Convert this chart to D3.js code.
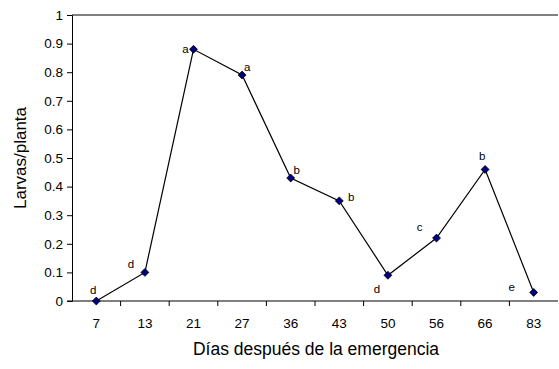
<!DOCTYPE html>
<html>
<head>
<meta charset="utf-8">
<script src="https://cdn.jsdelivr.net/npm/d3@7"></script>
<style>
  body { margin: 0; background: #fff; }
  svg text { font-family: "Liberation Sans", Arial, sans-serif; fill: #000; }
</style>
</head>
<body>
<div id="chart"></div>
<script>
// data
var days = ["7", "13", "21", "27", "36", "43", "50", "56", "66", "83"];
var larvas = [0, 0.1, 0.88, 0.79, 0.43, 0.35, 0.09, 0.22, 0.46, 0.03];
var letters = ["d", "d", "a", "a", "b", "b", "d", "c", "b", "e"];
var yTicks = [0, 0.1, 0.2, 0.3, 0.4, 0.5, 0.6, 0.7, 0.8, 0.9, 1];

var margin = { top: 15, right: 1, bottom: 68, left: 72 },
    width = 559 - margin.left - margin.right,
    height = 369 - margin.top - margin.bottom;

var svg = d3.select("#chart")
    .append("svg")
    .attr("width", 559)
    .attr("height", 369)
    .append("g")
    .attr("transform", "translate(" + margin.left + "," + margin.top + ")");

var x = d3.scaleBand()
    .domain(days)
    .range([0, width]);

var y = d3.scaleLinear()
    .domain([0, 1])
    .range([height, 0]);

// grey top border of plot area
svg.append("line")
    .attr("x1", 0).attr("x2", width)
    .attr("y1", 0).attr("y2", 0)
    .attr("stroke", "#808080")
    .attr("stroke-width", 2);

// Y axis
var yAxis = svg.append("g")
    .call(d3.axisLeft(y).tickValues(yTicks).tickSize(5).tickPadding(4)
        .tickFormat(function(d) { return d3.format("")(+d.toFixed(1)); }));
yAxis.select(".domain").attr("stroke", "#000");
yAxis.selectAll("text").style("font-size", "13.5px");

// X axis, ticks between categories
var xAxis = svg.append("g")
    .attr("transform", "translate(0," + height + ")")
    .call(d3.axisBottom(x).tickSize(0).tickPadding(17));
xAxis.select(".domain").remove();
xAxis.selectAll("text").style("font-size", "13.5px");

svg.append("line")
    .attr("x1", -5).attr("x2", width)
    .attr("y1", height).attr("y2", height)
    .attr("stroke", "#000");

svg.append("g")
    .selectAll("line")
    .data(days.slice(1))
    .enter()
    .append("line")
    .attr("x1", function(d) { return x(d); })
    .attr("x2", function(d) { return x(d); })
    .attr("y1", height)
    .attr("y2", height + 5)
    .attr("stroke", "#000");

// line
var line = d3.line()
    .x(function(d, i) { return x(days[i]) + x.bandwidth() / 2; })
    .y(function(d) { return y(d); });

svg.append("path")
    .datum(larvas)
    .attr("d", line)
    .attr("fill", "none")
    .attr("stroke", "#000")
    .attr("stroke-width", 1.2);

// diamond markers
svg.append("g")
    .selectAll("path")
    .data(larvas)
    .enter()
    .append("path")
    .attr("d", d3.symbol().type(d3.symbolDiamond2).size(40))
    .attr("transform", function(d, i) {
        return "translate(" + (x(days[i]) + x.bandwidth() / 2) + "," + y(d) + ")";
    })
    .attr("fill", "#000080")
    .attr("stroke", "#000")
    .attr("stroke-width", 0.8);

// significance letters, placed by hand around each point
var labelOff = [[-3, -11], [-14, -8], [-8, 0], [5, -8], [6, -8], [12, -4], [-11, 14], [-17, -11], [-3, -13], [-22, -5]];
svg.append("g")
    .selectAll("text")
    .data(letters)
    .enter()
    .append("text")
    .attr("x", function(d, i) { return x(days[i]) + x.bandwidth() / 2 + labelOff[i][0]; })
    .attr("y", function(d, i) { return y(larvas[i]) + labelOff[i][1]; })
    .attr("text-anchor", "middle")
    .attr("dy", "0.35em")
    .style("font-size", "11.5px")
    .text(function(d) { return d; });

// axis titles
svg.append("text")
    .attr("x", width / 2 + 1)
    .attr("y", height + 54)
    .attr("text-anchor", "middle")
    .style("font-size", "17.5px")
    .text("Días después de la emergencia");

svg.append("text")
    .attr("transform", "translate(" + (-46) + "," + (height / 2) + ") rotate(-90)")
    .attr("text-anchor", "middle")
    .style("font-size", "17px")
    .text("Larvas/planta");
</script>
</body>
</html>
